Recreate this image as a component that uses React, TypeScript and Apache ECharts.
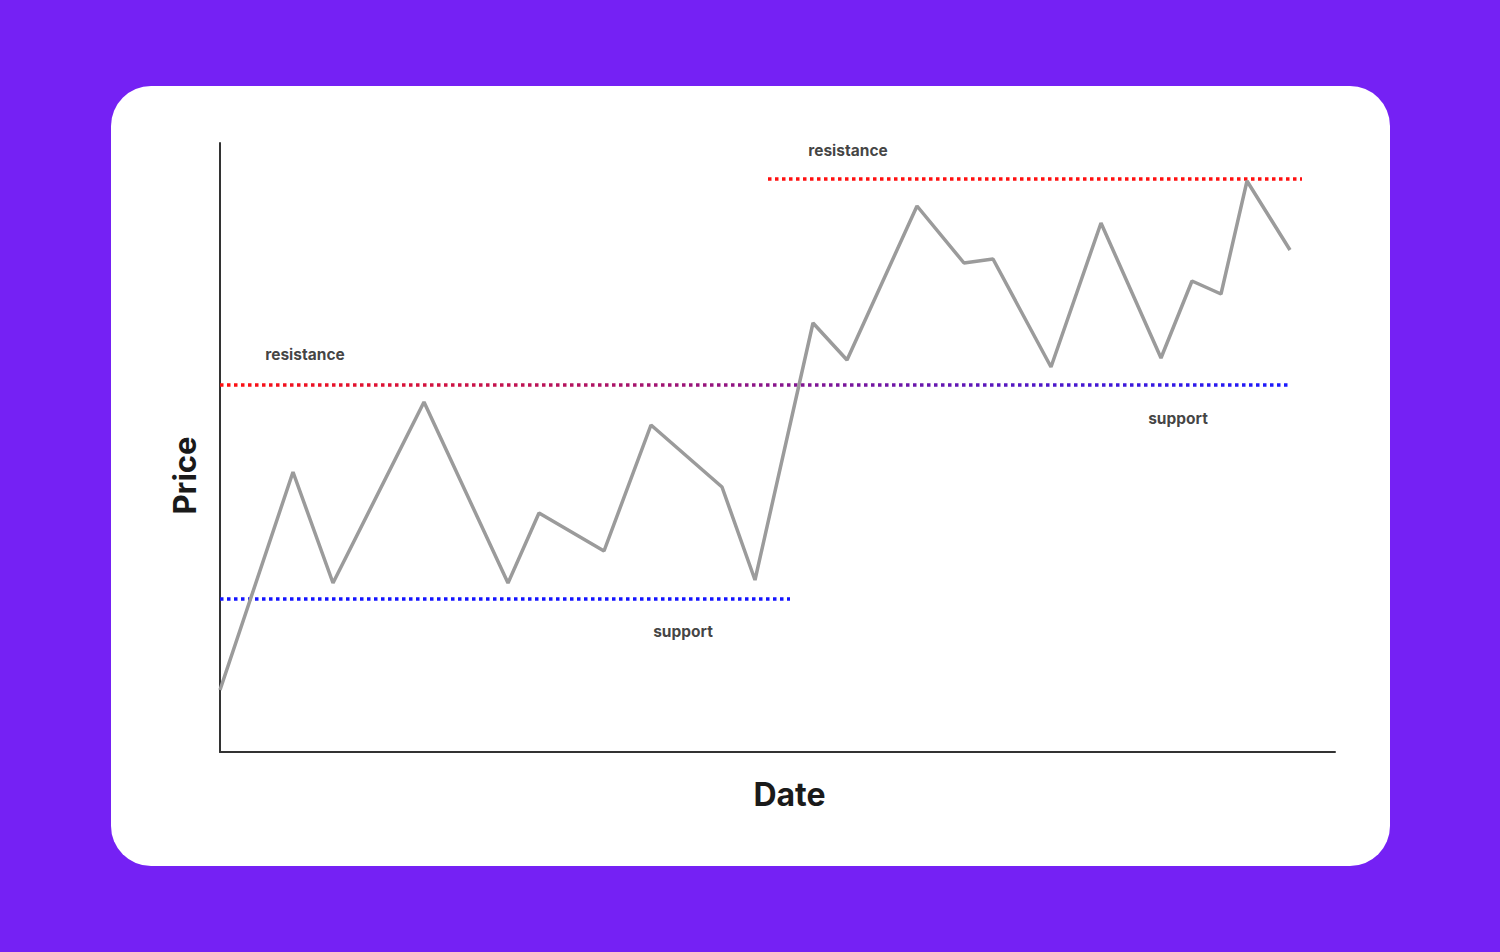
import * as echarts from 'echarts';
import { useEffect, useRef } from 'react';

// price path, x = horizontal position along the date axis, y = price level
const priceX = [0, 73, 113, 204, 288, 319, 384, 431, 502, 535, 593, 627, 697, 744, 773, 831, 881, 941, 972, 1001, 1027, 1070];
const priceY = [62, 280, 169, 350, 169, 239, 201, 327, 265, 172, 429, 392, 546, 489, 493, 385, 529, 394, 471, 458, 571, 502];

// support / resistance levels: [startX, endX, level]
const resistanceLow = [0, 1070, 367];
const supportLow = [0, 570, 153];
const resistanceHigh = [548, 1082, 573];

// annotation labels: [text, x, y]
const notes: [string, number, number][] = [
  ['resistance', 85, 398],
  ['support', 463, 121],
  ['resistance', 628, 602],
  ['support', 958, 334],
];

const dotted = [3.5, 3.5];

function level(l: number[]) {
  return [[l[0], l[2]], [l[1], l[2]]];
}

export default function App() {
  const ref = useRef<HTMLDivElement>(null);

  useEffect(() => {
    if (!ref.current) return;
    const chart = echarts.init(ref.current, null, { renderer: 'svg' });
    chart.setOption({
      animation: false,
      backgroundColor: '#7521F4',
      textStyle: { fontFamily: 'Inter' },
      graphic: [
        {
          type: 'rect',
          z: -1,
          shape: { x: 111, y: 86, width: 1279, height: 780, r: 40 },
          style: { fill: '#ffffff' },
        },
      ],
      grid: { left: 220, top: 143, right: 165, bottom: 200 },
      xAxis: {
        type: 'value',
        min: 0,
        max: 1115,
        name: 'Date',
        nameLocation: 'middle',
        nameGap: 26,
        nameTextStyle: { fontSize: 32, fontWeight: 700, color: '#1a1a1a', padding: [0, 0, 0, 24] },
        axisLine: { lineStyle: { color: '#333', width: 2 } },
        axisTick: { show: false },
        axisLabel: { show: false },
        splitLine: { show: false },
      },
      yAxis: {
        type: 'value',
        min: 0,
        max: 609,
        name: 'Price',
        nameLocation: 'middle',
        nameGap: 20,
        nameTextStyle: { fontSize: 31, fontWeight: 700, color: '#1a1a1a', padding: [0, 56, 0, 0] },
        axisLine: { show: true, lineStyle: { color: '#333', width: 2 } },
        axisTick: { show: false },
        axisLabel: { show: false },
        splitLine: { show: false },
      },
      series: [
        {
          type: 'line',
          data: level(supportLow),
          symbol: 'none',
          lineStyle: { color: '#1414ff', width: 3.5, type: dotted },
        },
        {
          type: 'line',
          data: level(resistanceLow),
          symbol: 'none',
          lineStyle: {
            width: 3.5,
            type: dotted,
            color: new echarts.graphic.LinearGradient(220, 0, 1290, 0, [
              { offset: 0, color: '#ff1010' },
              { offset: 1, color: '#1a1aff' },
            ], true),
          },
        },
        {
          type: 'line',
          data: level(resistanceHigh),
          symbol: 'none',
          lineStyle: { color: '#ff1010', width: 3.5, type: dotted },
        },
        {
          type: 'line',
          data: priceX.map((x, i) => [x, priceY[i]]),
          symbol: 'none',
          lineStyle: { color: '#9b9b9b', width: 3.5 },
          z: 5,
        },
        {
          type: 'scatter',
          symbol: 'circle',
          symbolSize: 1,
          itemStyle: { color: 'rgba(0,0,0,0)' },
          data: notes.map((n) => ({ value: [n[1], n[2]], name: n[0] })),
          label: {
            show: true,
            position: 'inside',
            formatter: '{b}',
            fontSize: 15.5,
            fontWeight: 700,
            color: '#111111',
            textBorderWidth: 0,
          },
        },
      ],
    });
    return () => chart.dispose();
  }, []);

  return (
    <div
      ref={ref}
      style={{ position: 'fixed', left: 0, top: 0, width: 1500, height: 952 }}
    />
  );
}
